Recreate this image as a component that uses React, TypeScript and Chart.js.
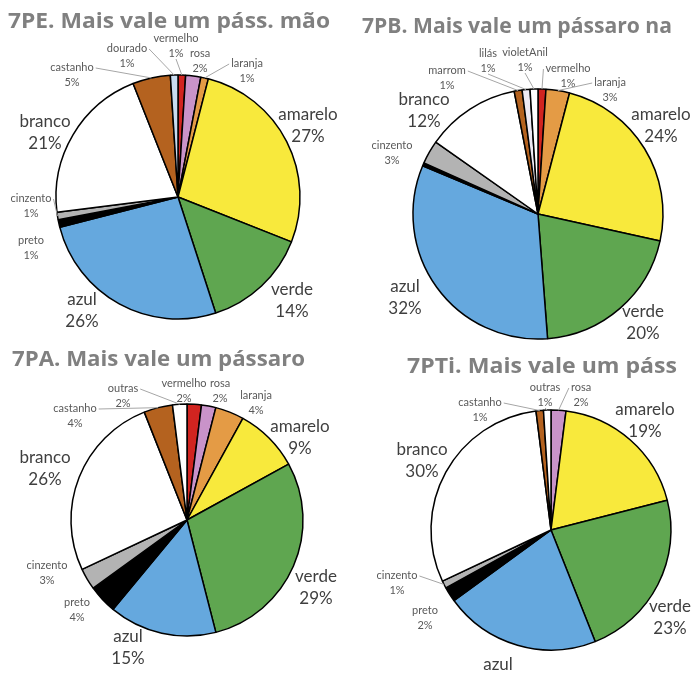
import React, { useEffect, useRef } from 'react';
import { Chart, registerables } from 'chart.js';

Chart.register(...registerables);

const W = 699;
const H = 673;

// ---------- DATA ----------
// 7PE
const peTitle = '7PE. Mais vale um páss. mão';
const peCategories = ['vermelho', 'rosa', 'laranja', 'amarelo', 'verde', 'azul', 'preto', 'cinzento', 'branco', 'castanho', 'dourado'];
const peValues = [1, 2, 1, 27, 14, 26, 1, 1, 21, 5, 1];

// 7PB
const pbTitle = '7PB. Mais vale um pássaro na';
const pbCategories = ['vermelho', 'laranja', 'amarelo', 'verde', 'azul', 'preto', 'cinzento', 'branco', 'marrom', 'lilás', 'violetAnil'];
const pbValues = [1, 3, 24, 20, 32, 0.4, 3, 12, 1, 1, 1];

// 7PA
const paTitle = '7PA. Mais vale um pássaro';
const paCategories = ['vermelho', 'rosa', 'laranja', 'amarelo', 'verde', 'azul', 'preto', 'cinzento', 'branco', 'castanho', 'outras'];
const paValues = [2, 2, 4, 9, 29, 15, 4, 3, 26, 4, 2];

// 7PTi
const ptTitle = '7PTi. Mais vale um páss';
const ptCategories = ['rosa', 'amarelo', 'verde', 'azul', 'preto', 'cinzento', 'branco', 'castanho', 'outras'];
const ptValues = [2, 19, 23, 21, 2, 1, 30, 1, 1];

// ---------- STYLES ----------
const colorMap: Record<string, string> = {
  vermelho: '#d12420',
  rosa: '#c993c9',
  laranja: '#e49b45',
  amarelo: '#f8e93c',
  verde: '#5fa650',
  azul: '#65a8de',
  preto: '#000000',
  cinzento: '#b3b3b3',
  branco: '#ffffff',
  castanho: '#b4621f',
  marrom: '#b4621f',
  dourado: '#c8dcf0',
  lilás: '#eeeaf4',
  violetAnil: '#ffffff',
  outras: '#ffffff',
};

type LabelPos = { dx: number; dy: number; big?: boolean; line?: 'left' | 'right' | 'bottom' };

type Spec = {
  title: string;
  titleX: number;
  titleY: number;
  titleW: number;
  cx: number;
  cy: number;
  r: number;
  categories: string[];
  values: number[];
  labels: Record<string, LabelPos>;
};

const specs: Spec[] = [
  {
    title: peTitle, titleX: 8, titleY: 28, titleW: 322, cx: 178, cy: 197, r: 122,
    categories: peCategories, values: peValues,
    labels: {
      amarelo: { dx: 130, dy: -82, big: true },
      verde: { dx: 114, dy: 93, big: true },
      azul: { dx: -96, dy: 103, big: true },
      branco: { dx: -133, dy: -75, big: true },
      cinzento: { dx: -147, dy: 1, line: 'right' },
      preto: { dx: -147, dy: 43 },
      castanho: { dx: -106, dy: -130, line: 'right' },
      dourado: { dx: -51, dy: -149, line: 'right' },
      vermelho: { dx: -2, dy: -159, line: 'bottom' },
      rosa: { dx: 22, dy: -144 },
      laranja: { dx: 69, dy: -134, line: 'left' },
    },
  },
  {
    title: pbTitle, titleX: 362, titleY: 33, titleW: 310, cx: 538, cy: 214, r: 125,
    categories: pbCategories, values: pbValues,
    labels: {
      amarelo: { dx: 123, dy: -99, big: true },
      verde: { dx: 105, dy: 98, big: true },
      azul: { dx: -133, dy: 73, big: true },
      branco: { dx: -114, dy: -114, big: true },
      cinzento: { dx: -146, dy: -69 },
      marrom: { dx: -91, dy: -144, line: 'right' },
      lilás: { dx: -50, dy: -161, line: 'bottom' },
      violetAnil: { dx: -13, dy: -162, line: 'bottom' },
      vermelho: { dx: 30, dy: -146, line: 'left' },
      laranja: { dx: 72, dy: -132, line: 'left' },
    },
  },
  {
    title: paTitle, titleX: 12, titleY: 366, titleW: 293, cx: 187, cy: 520, r: 116,
    categories: paCategories, values: paValues,
    labels: {
      amarelo: { dx: 113, dy: -93, big: true },
      verde: { dx: 129, dy: 57, big: true },
      azul: { dx: -59, dy: 117, big: true },
      branco: { dx: -142, dy: -62, big: true },
      cinzento: { dx: -140, dy: 45 },
      preto: { dx: -110, dy: 82 },
      castanho: { dx: -112, dy: -112, line: 'right' },
      outras: { dx: -64, dy: -132, line: 'right' },
      vermelho: { dx: -3, dy: -137 },
      rosa: { dx: 33, dy: -137 },
      laranja: { dx: 69, dy: -125 },
    },
  },
  {
    title: ptTitle, titleX: 407, titleY: 373, titleW: 270, cx: 551, cy: 530, r: 120,
    categories: ptCategories, values: ptValues,
    labels: {
      amarelo: { dx: 94, dy: -120, big: true },
      verde: { dx: 119, dy: 77, big: true },
      azul: { dx: -53, dy: 135, big: true },
      branco: { dx: -129, dy: -80, big: true },
      cinzento: { dx: -154, dy: 45, line: 'right' },
      preto: { dx: -126, dy: 80 },
      castanho: { dx: -71, dy: -128, line: 'right' },
      outras: { dx: -6, dy: -143, line: 'bottom' },
      rosa: { dx: 30, dy: -143, line: 'left' },
    },
  },
];

const FONT = 'Lato, "Open Sans", sans-serif';

function makePlugin(spec: Spec) {
  return {
    id: 'customLabels',
    afterDraw(chart: any) {
      const ctx: CanvasRenderingContext2D = chart.ctx;
      const meta = chart.getDatasetMeta(0);
      ctx.save();
      // title, fitted to its width
      ctx.font = `bold 22px "Open Sans", ${FONT}`;
      ctx.fillStyle = '#808080';
      ctx.textAlign = 'left';
      ctx.textBaseline = 'alphabetic';
      const tw = ctx.measureText(spec.title).width;
      ctx.save();
      ctx.translate(spec.titleX, spec.titleY);
      ctx.scale(spec.titleW / tw, 1);
      ctx.fillText(spec.title, 0, 0);
      ctx.restore();

      spec.categories.forEach((cat, i) => {
        const lp = spec.labels[cat];
        if (!lp) return;
        const arc: any = meta.data[i];
        const big = !!lp.big;
        const x = arc.x + lp.dx;
        const y = arc.y + lp.dy;
        const pct = `${spec.values[i]}%`;
        const gap = big ? 22 : 15;
        ctx.font = big ? `17px ${FONT}` : `11px ${FONT}`;
        ctx.fillStyle = big ? '#3f3f3f' : '#595959';
        ctx.textAlign = 'center';
        ctx.textBaseline = 'middle';
        ctx.fillText(cat, x, y);
        ctx.fillText(pct, x, y + gap);
        if (lp.line) {
          const w = ctx.measureText(cat).width;
          let sx = x, sy = y;
          if (lp.line === 'right') { sx = x + w / 2 + 2; sy = y + 1; }
          else if (lp.line === 'left') { sx = x - w / 2 - 2; sy = y + 1; }
          else { sx = x; sy = y + gap + 6; }
          const mid = (arc.startAngle + arc.endAngle) / 2;
          const ex = arc.x + Math.cos(mid) * arc.outerRadius;
          const ey = arc.y + Math.sin(mid) * arc.outerRadius;
          ctx.strokeStyle = '#a6a6a6';
          ctx.lineWidth = 1;
          ctx.beginPath();
          ctx.moveTo(sx, sy);
          ctx.lineTo(ex, ey);
          ctx.stroke();
        }
      });
      ctx.restore();
    },
  };
}

function PieCanvas({ spec }: { spec: Spec }) {
  const ref = useRef<HTMLCanvasElement>(null);
  useEffect(() => {
    if (!ref.current) return;
    const S = spec.r + 3;
    const chart = new Chart(ref.current, {
      type: 'pie',
      data: {
        labels: spec.categories,
        datasets: [{
          data: spec.values,
          backgroundColor: spec.categories.map((c) => colorMap[c]),
          borderColor: '#000000',
          borderWidth: 1.5,
        }],
      },
      options: {
        responsive: false,
        animation: false,
        radius: spec.r,
        layout: {
          padding: {
            left: spec.cx - S,
            right: W - spec.cx - S,
            top: spec.cy - S,
            bottom: H - spec.cy - S,
          },
        },
        plugins: {
          legend: { display: false },
          tooltip: { enabled: false },
          title: { display: false },
        },
      } as any,
      plugins: [makePlugin(spec)],
    });
    return () => chart.destroy();
  }, [spec]);
  return (
    <canvas
      ref={ref}
      width={W}
      height={H}
      style={{ position: 'absolute', left: 0, top: 0, width: W, height: H, pointerEvents: 'none' }}
    />
  );
}

export default function App() {
  return (
    <div style={{ position: 'absolute', left: 0, top: 0, width: W, height: H, background: '#ffffff', overflow: 'hidden' }}>
      {specs.map((s, i) => (
        <PieCanvas key={i} spec={s} />
      ))}
    </div>
  );
}
